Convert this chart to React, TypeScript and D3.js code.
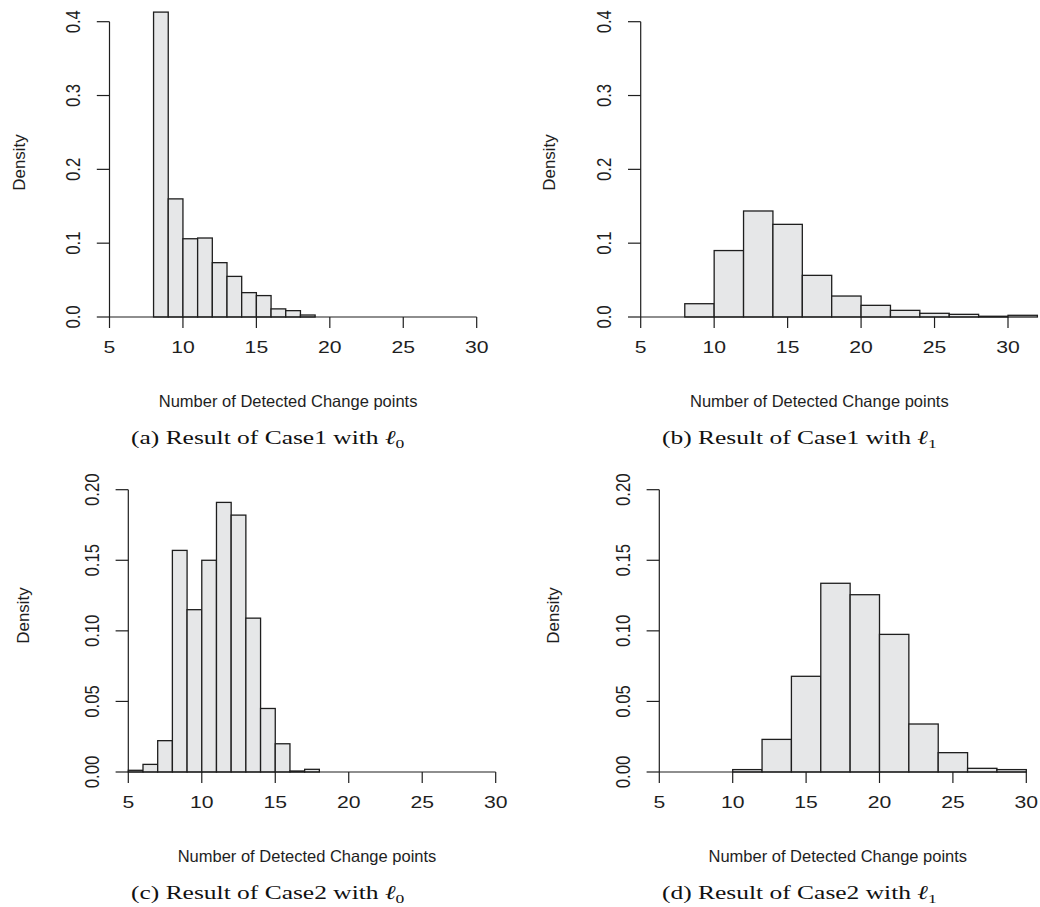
import React from "react";
import * as d3 from "d3";

// histogram bin edges and densities
const case1L0Breaks = [8, 9, 10, 11, 12, 13, 14, 15, 16, 17, 18, 19];
const case1L0Density = [0.413, 0.16, 0.106, 0.107, 0.0736, 0.055, 0.033, 0.029, 0.011, 0.0086, 0.0027];

const case1L1Breaks = [8, 10, 12, 14, 16, 18, 20, 22, 24, 26, 28, 30, 32];
const case1L1Density = [0.018, 0.09, 0.1436, 0.1255, 0.0564, 0.0284, 0.0158, 0.009, 0.005, 0.0036, 0.001, 0.0023];

const case2L0Breaks = [5, 6, 7, 8, 9, 10, 11, 12, 13, 14, 15, 16, 17, 18];
const case2L0Density = [0.0012, 0.0054, 0.0222, 0.157, 0.115, 0.15, 0.191, 0.182, 0.109, 0.045, 0.02, 0.0007, 0.0019];

const case2L1Breaks = [10, 12, 14, 16, 18, 20, 22, 24, 26, 28, 30];
const case2L1Density = [0.0017, 0.0231, 0.0678, 0.1337, 0.1256, 0.0975, 0.034, 0.0137, 0.0026, 0.0017];

const xTicks = [5, 10, 15, 20, 25, 30];
const yTicksTop = [0, 0.1, 0.2, 0.3, 0.4];
const yTicksBottom = [0, 0.05, 0.1, 0.15, 0.2];

const captionText = ["(a) Result of Case1 with ", "(b) Result of Case1 with ", "(c) Result of Case2 with ", "(d) Result of Case2 with "];
const captionSub = ["0", "1", "0", "1"];

const xTitle = "Number of Detected Change points";
const yTitle = "Density";

const SANS = "'Liberation Sans', Arial, Helvetica, sans-serif";
const SERIF = "'Liberation Serif', 'Times New Roman', serif";
const INK = "#1e1e1e";
const BAR_FILL = "#e6e7e8";

// panel frames in page pixels
const panels = [
  { breaks: case1L0Breaks, dens: case1L0Density, yTicks: yTicksTop, yMax: 0.4, fmt: ".1f", left: 109.5, right: 476.7, bottom: 317, top: 21.7, dens_x: 24.8, dens_y: 162.5, capX: 131 },
  { breaks: case1L1Breaks, dens: case1L1Density, yTicks: yTicksTop, yMax: 0.4, fmt: ".1f", left: 640.7, right: 1008, bottom: 317, top: 21.7, dens_x: 555.4, dens_y: 162.5, capX: 662 },
  { breaks: case2L0Breaks, dens: case2L0Density, yTicks: yTicksBottom, yMax: 0.2, fmt: ".2f", left: 128.3, right: 495.7, bottom: 772, top: 489.7, dens_x: 28.8, dens_y: 615.5, capX: 131 },
  { breaks: case2L1Breaks, dens: case2L1Density, yTicks: yTicksBottom, yMax: 0.2, fmt: ".2f", left: 659.3, right: 1026.3, bottom: 772, top: 489.7, dens_x: 559.4, dens_y: 615.5, capX: 662 },
];

function Panel({ p, idx }: { p: (typeof panels)[number]; idx: number }) {
  const x = d3.scaleLinear().domain([5, 30]).range([p.left, p.right]);
  const y = d3.scaleLinear().domain([0, p.yMax]).range([p.bottom, p.top]);
  const fmt = d3.format(p.fmt);
  const bins = p.dens.map((d, i) => ({ x0: p.breaks[i], x1: p.breaks[i + 1], d }));
  const midX = (x(5) + x(30)) / 2 - 5;

  return (
    <g>
      {bins.map((b, i) => (
        <rect
          key={i}
          x={x(b.x0)}
          y={y(b.d)}
          width={x(b.x1) - x(b.x0)}
          height={y(0) - y(b.d)}
          fill={BAR_FILL}
          stroke={INK}
          strokeWidth={1.3}
        />
      ))}
      {/* x axis */}
      <line x1={x(5)} x2={x(30)} y1={y(0)} y2={y(0)} stroke={INK} strokeWidth={1.2} />
      {xTicks.map((t) => (
        <g key={t}>
          <line x1={x(t)} x2={x(t)} y1={y(0)} y2={y(0) + 11} stroke={INK} strokeWidth={1.2} />
          <text
            transform={`translate(${x(t)},${y(0) + 36.3}) scale(1.3,1)`}
            textAnchor="middle"
            fontSize={16.3}
            fontFamily={SANS}
            fill={INK}
          >
            {t}
          </text>
        </g>
      ))}
      {/* y axis */}
      <line x1={x(5)} x2={x(5)} y1={y(0)} y2={y(p.yMax)} stroke={INK} strokeWidth={1.2} />
      {p.yTicks.map((t) => (
        <g key={t}>
          <line x1={x(5) - 12.7} x2={x(5)} y1={y(t)} y2={y(t)} stroke={INK} strokeWidth={1.2} />
          <text
            transform={`translate(${x(5) - 29.5},${y(t)}) scale(1.25,1) rotate(-90)`}
            textAnchor="middle"
            fontSize={16.7}
            fontFamily={SANS}
            fill={INK}
          >
            {fmt(t)}
          </text>
        </g>
      ))}
      <text
        transform={`translate(${p.dens_x},${p.dens_y}) rotate(-90)`}
        textAnchor="middle"
        fontSize={16.9}
        fontFamily={SANS}
        fill={INK}
      >
        {yTitle}
      </text>
      <text x={midX} y={y(0) + 90} textAnchor="middle" fontSize={16.5} fontFamily={SANS} fill={INK}>
        {xTitle}
      </text>
      <text
        transform={`translate(${p.capX},${y(0) + 127}) scale(1.3,1)`}
        fontSize={19.6}
        fontFamily={SERIF}
        fill="#111"
      >
        {captionText[idx]}
        <tspan fontStyle="italic">ℓ</tspan>
        <tspan dy={4} fontSize={13.5}>
          {captionSub[idx]}
        </tspan>
      </text>
    </g>
  );
}

export default function App() {
  return (
    <svg width={1040} height={907} style={{ position: "absolute", left: 0, top: 0, background: "#fff" }}>
      <rect width={1040} height={907} fill="#fff" />
      {panels.map((p, i) => (
        <Panel key={i} p={p} idx={i} />
      ))}
    </svg>
  );
}
